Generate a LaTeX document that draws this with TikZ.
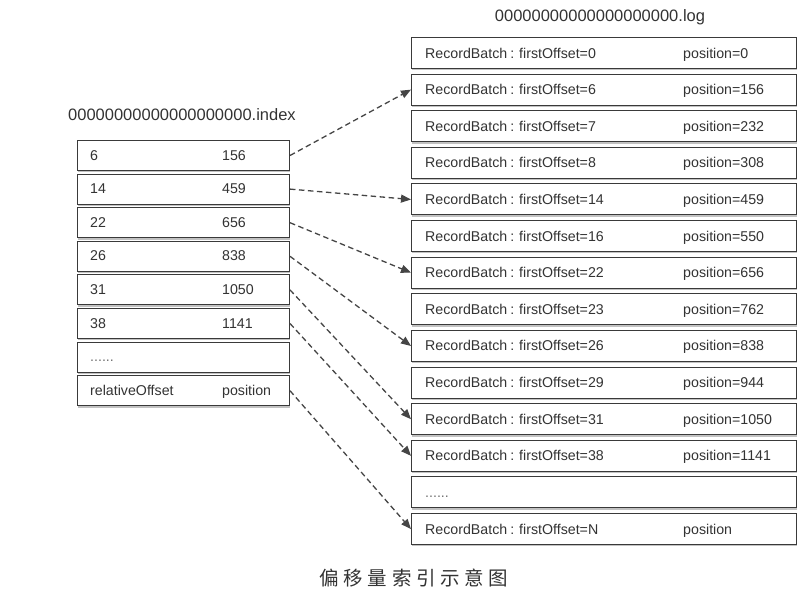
\documentclass[tikz,border=0pt]{standalone}
\usepackage{fontspec}
\setmainfont{Liberation Sans}
\newfontfamily\cjk[LetterSpace=24]{Noto Sans CJK SC}
\usetikzlibrary{arrows.meta,shadows}
\definecolor{boxline}{HTML}{3A3A3A}
\definecolor{txt}{HTML}{333333}
\definecolor{arr}{HTML}{454545}
\newcommand\mydots{{\color{txt!70}......}}
\newcommand\rb[1]{RecordBatch\hspace{3pt}:\hspace{5pt}firstOffset=#1}
\tikzset{
  lrow/.style={draw=boxline, line width=1pt, fill=white, minimum width=212pt, minimum height=30pt, anchor=north west, inner sep=0pt,
    drop shadow={shadow xshift=0.5pt, shadow yshift=-1.8pt, opacity=0.4, fill=black!60}},
  rrow/.style={draw=boxline, line width=1pt, fill=white, minimum width=385pt, minimum height=31pt, anchor=north west, inner sep=0pt,
    drop shadow={shadow xshift=0.5pt, shadow yshift=-1.8pt, opacity=0.4, fill=black!60}},
  celltxt/.style={anchor=base west, inner sep=0pt, text=txt, font=\fontsize{14.2}{16}\selectfont},
  titletxt/.style={inner sep=0pt, text=txt, font=\fontsize{16.5}{19}\selectfont},
  link/.style={draw=arr, line width=1.3pt, dash pattern=on 5.5pt off 3.5pt, -{Triangle[length=10pt,width=8pt,fill=arr]}}
}
\begin{document}
\begin{tikzpicture}[x=1pt,y=-1pt]
\useasboundingbox (0,0) rectangle (810,603);

% titles
\node[titletxt, anchor=west] (ititle) at (68,115) {00000000000000000000.index};
\node[titletxt] (ltitle) at (600,17) {00000000000000000000.log};

% left index table
\foreach \i/\a/\b in {1/6/156, 2/14/459, 3/22/656, 4/26/838, 5/31/1050, 6/38/1141, 7/\mydots/{}, 8/relativeOffset/position} {
  \node[lrow] (L\i) at (77, {140+33.6*(\i-1)}) {};
  \node[celltxt] (La\i) at (90, {160+33.6*(\i-1)}) {\a};
  \node[celltxt] (Lb\i) at (222, {160+33.6*(\i-1)}) {\b};
}

% right log table
\foreach \i/\a/\b in {1/0/0, 2/6/156, 3/7/232, 4/8/308, 5/14/459, 6/16/550, 7/22/656, 8/23/762, 9/26/838, 10/29/944, 11/31/1050, 12/38/1141} {
  \node[rrow] (R\i) at (411, {37+36.62*(\i-1)}) {};
  \node[celltxt] (Ra\i) at (425, {58+36.62*(\i-1)}) {\rb{\a}};
  \node[celltxt] (Rb\i) at (683, {58+36.62*(\i-1)}) {position=\b};
}
\node[rrow] (R13) at (411, {37+36.62*12}) {};
\node[celltxt] (Ra13) at (425, {58+36.62*12}) {\mydots};
\node[rrow] (R14) at (411, {37+36.62*13}) {};
\node[celltxt] (Ra14) at (425, {58+36.62*13}) {\rb{N}};
\node[celltxt] (Rb14) at (683, {58+36.62*13}) {position};

% links
\draw[link] (L1.east) -- (R2.west);
\draw[link] (L2.east) -- (R5.west);
\draw[link] (L3.east) -- (R7.west);
\draw[link] (L4.east) -- (R9.west);
\draw[link] (L5.east) -- (R11.west);
\draw[link] (L6.east) -- (R12.west);
\draw[link] (L8.east) -- (R14.west);

% caption
\node[inner sep=0pt, text=txt, font=\cjk\fontsize{19.5}{22}\selectfont] (cap) at (414,578) {偏移量索引示意图};
\end{tikzpicture}
\end{document}
